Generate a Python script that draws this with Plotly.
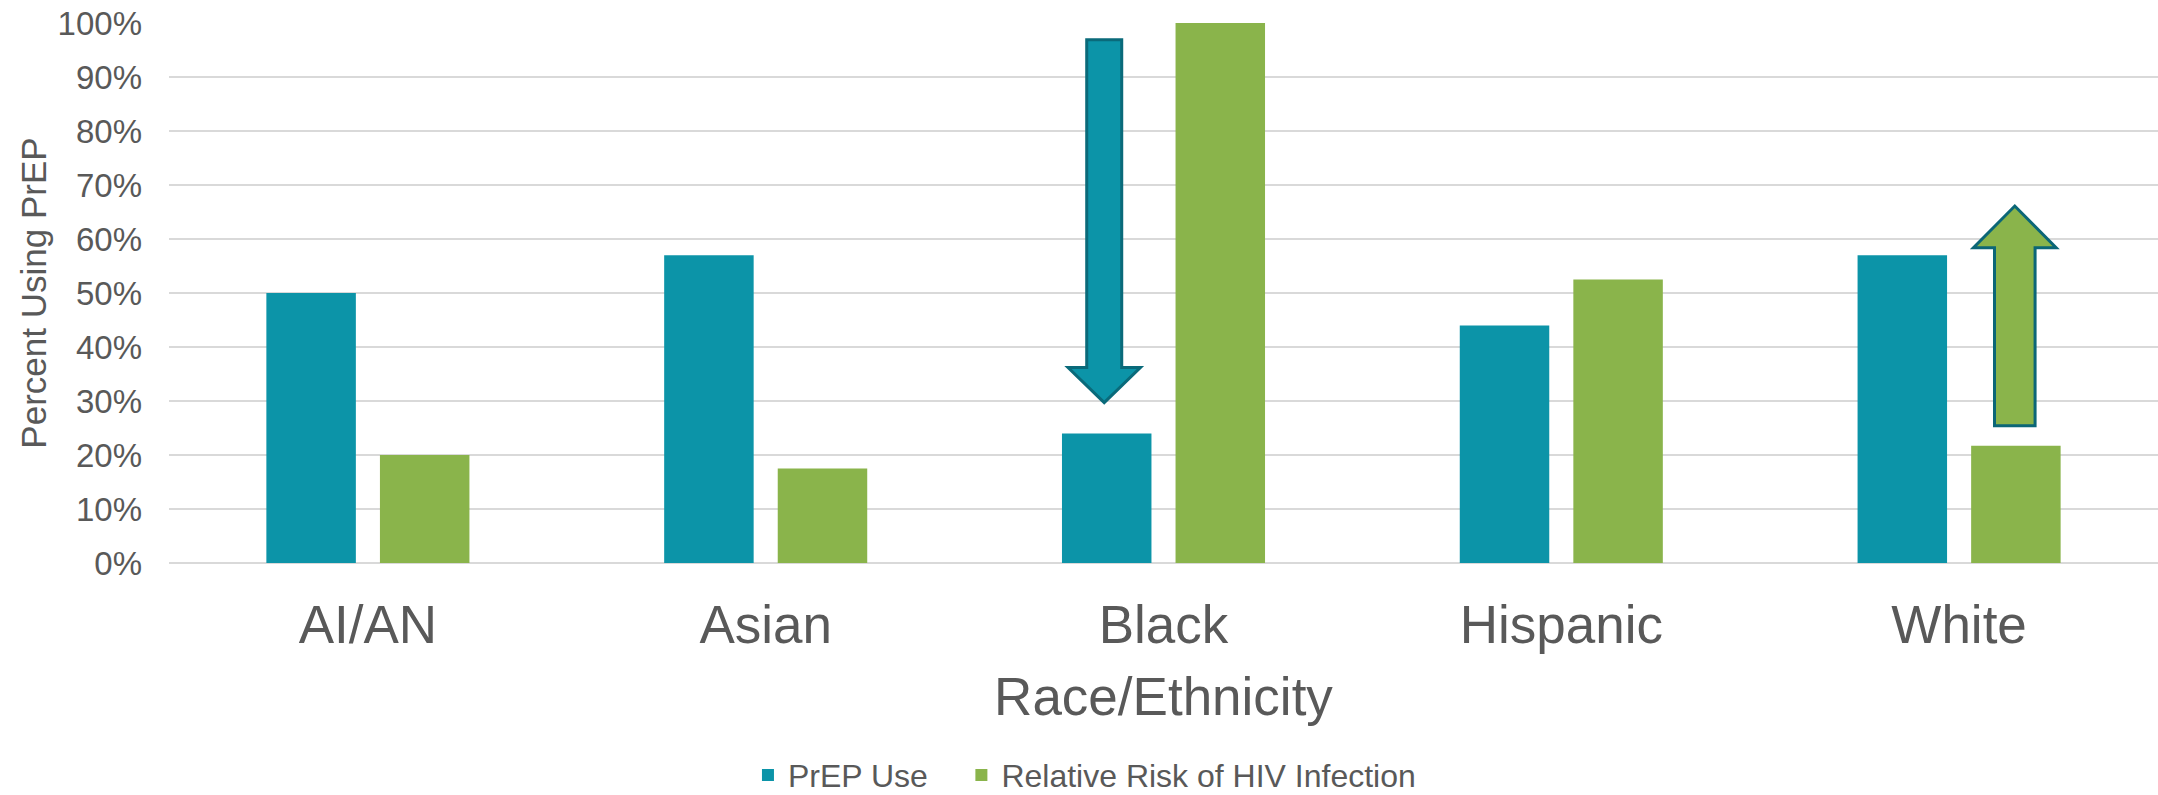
import plotly.graph_objects as go

# Categories and series values (fractions of 1 -> percent)
categories = ["AI/AN", "Asian", "Black", "Hispanic", "White"]
prep_use = [0.50, 0.57, 0.24, 0.44, 0.57]
relative_risk = [0.20, 0.175, 1.00, 0.525, 0.217]
y_ticks = [i / 10 for i in range(11)]
y_tick_labels = [f"{int(round(v * 100))}%" for v in y_ticks]

TEAL = "#0C94A8"
GREEN = "#8AB44B"
GRID = "#D9D9D9"
TEXT = "#595959"
FONT = "Liberation Sans, Arial, sans-serif"

x_pos = list(range(len(categories)))

fig = go.Figure()
fig.add_trace(go.Bar(x=x_pos, y=prep_use, name="PrEP Use", legend="legend",
                     marker=dict(color=TEAL, line=dict(width=0))))
fig.add_trace(go.Bar(x=x_pos, y=relative_risk, name="Relative Risk of HIV Infection",
                     legend="legend2", marker=dict(color=GREEN, line=dict(width=0))))


def block_arrow(xc, shaft_half, head_half, y_tail, y_shoulder, y_tip):
    """Closed SVG path for a block arrow running vertically from y_tail to y_tip."""
    pts = [
        (xc - shaft_half, y_tail), (xc + shaft_half, y_tail),
        (xc + shaft_half, y_shoulder), (xc + head_half, y_shoulder),
        (xc, y_tip),
        (xc - head_half, y_shoulder), (xc - shaft_half, y_shoulder),
    ]
    return "M " + " L ".join(f"{x},{y}" for x, y in pts) + " Z"


# Downward arrow over the Black PrEP bar, upward arrow over the White risk bar
fig.add_shape(type="path", xref="x", yref="y",
              path=block_arrow(1.851, 0.044, 0.091, 0.969, 0.362, 0.297),
              fillcolor=TEAL, line=dict(color="#0A6A7A", width=3), layer="above")
fig.add_shape(type="path", xref="x", yref="y",
              path=block_arrow(4.140, 0.051, 0.104, 0.254, 0.584, 0.661),
              fillcolor=GREEN, line=dict(color="#0B6677", width=3), layer="above")

legend_common = dict(orientation="h", xref="container", yref="container",
                     xanchor="left", y=0.025, yanchor="middle",
                     font=dict(size=32, color=TEXT), bgcolor="rgba(0,0,0,0)")

fig.update_layout(
    width=2158, height=795,
    margin=dict(l=169, r=0, t=23, b=232, autoexpand=False),
    paper_bgcolor="white", plot_bgcolor="white",
    barmode="group", bargap=0.429, bargroupgap=0.212,
    font=dict(family=FONT, color=TEXT),
    showlegend=True,
    legend=dict(x=0.3466, **legend_common),
    legend2=dict(x=0.4455, **legend_common),
    xaxis=dict(
        range=[-0.5, 4.5], tickmode="array", tickvals=x_pos, ticktext=categories,
        tickfont=dict(size=53, color=TEXT), showgrid=False, zeroline=False,
        showline=False, ticks="", ticklabelstandoff=26, automargin=False,
        title=dict(text="Race/Ethnicity", font=dict(size=53, color=TEXT), standoff=24),
    ),
    yaxis=dict(
        range=[0, 1.0], tickmode="array", tickvals=y_ticks, ticktext=y_tick_labels,
        tickfont=dict(size=33, color=TEXT), showgrid=True, gridcolor=GRID, gridwidth=2,
        zeroline=True, zerolinecolor=GRID, zerolinewidth=2, showline=False, ticks="",
        ticklabelstandoff=26, automargin=False,
        title=dict(text="Percent Using PrEP", font=dict(size=35, color=TEXT), standoff=0),
    ),
)

fig.write_html("out.html")
